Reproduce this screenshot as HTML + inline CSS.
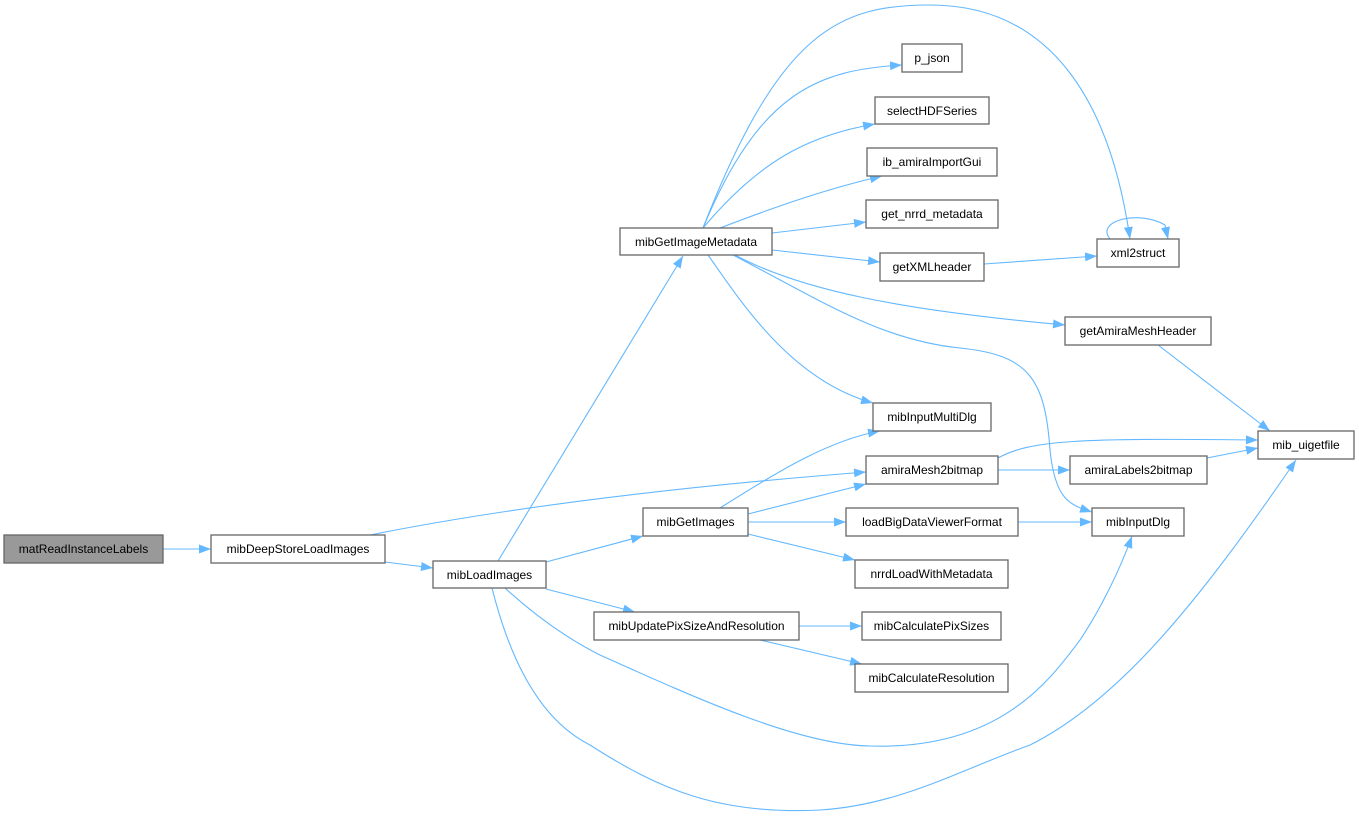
<!DOCTYPE html>
<html><head><meta charset="utf-8"><style>
html,body{margin:0;padding:0;background:#fff;}
svg{display:block;}
text{font-family:"Liberation Sans",Arial,sans-serif;font-size:12px;fill:#000;}
.n{fill:#fff;stroke:#666;stroke-width:1.3;}
.e{fill:none;stroke:#63b8ff;stroke-width:1.1;}
</style></head><body>
<svg width="1359" height="818" viewBox="0 0 1359 818" xmlns="http://www.w3.org/2000/svg">
<defs><marker id="a" markerWidth="12" markerHeight="9" refX="12" refY="4.5" orient="auto" markerUnits="userSpaceOnUse"><path d="M0,0 L12,4.5 L0,9 Z" fill="#63b8ff"/></marker></defs>
<g class="edges">
<path class="e" marker-end="url(#a)" d="M163,549 L211,549"/>
<path class="e" marker-end="url(#a)" d="M385,562 L433,568"/>
<path class="e" marker-end="url(#a)" d="M370,535 C520,505 700,485 866,472"/>
<path class="e" marker-end="url(#a)" d="M498,561 L683,256"/>
<path class="e" marker-end="url(#a)" d="M546,562 L643,536"/>
<path class="e" marker-end="url(#a)" d="M546,589 L635,612"/>
<path class="e" marker-end="url(#a)" d="M505,588 C540,620 570,640 600,655 C700,700 800,745 870,746 C1000,750 1050,680 1080,640 C1100,610 1120,570 1132,536"/>
<path class="e" marker-end="url(#a)" d="M492,588 C510,660 540,720 590,745 C660,790 720,815 820,810 C900,805 960,770 1030,745 C1120,700 1200,600 1296,460"/>
<path class="e" marker-end="url(#a)" d="M703,228 C760,90 820,70 902,65"/>
<path class="e" marker-end="url(#a)" d="M703,228 C760,160 810,135 875,124"/>
<path class="e" marker-end="url(#a)" d="M720,228 C780,205 830,188 882,176"/>
<path class="e" marker-end="url(#a)" d="M772,233 L866,222"/>
<path class="e" marker-end="url(#a)" d="M772,250 L880,262"/>
<path class="e" marker-end="url(#a)" d="M703,228 C780,30 840,5 930,5 C1050,5 1110,100 1130,239"/>
<path class="e" marker-end="url(#a)" d="M735,255 C800,290 900,310 1065,325"/>
<path class="e" marker-end="url(#a)" d="M708,255 C740,300 790,380 873,403"/>
<path class="e" marker-end="url(#a)" d="M733,255 C820,300 880,340 960,348 C1030,355 1045,380 1050,450 C1055,500 1070,505 1092,512"/>
<path class="e" marker-end="url(#a)" d="M984,264 L1097,256"/>
<path class="e" d="M1110,239 C1095,220 1140,210 1165,225"/>
<path class="e" marker-end="url(#a)" d="M1165,225 L1168,239"/>
<path class="e" marker-end="url(#a)" d="M1158,345 L1270,431"/>
<path class="e" marker-end="url(#a)" d="M998,458 C1030,440 1080,438 1258,440"/>
<path class="e" marker-end="url(#a)" d="M998,470 L1070,470"/>
<path class="e" marker-end="url(#a)" d="M1207,458 L1258,448"/>
<path class="e" marker-end="url(#a)" d="M720,508 C780,470 830,440 880,431"/>
<path class="e" marker-end="url(#a)" d="M748,514 L866,484"/>
<path class="e" marker-end="url(#a)" d="M748,522 L846,522"/>
<path class="e" marker-end="url(#a)" d="M748,534 L855,560"/>
<path class="e" marker-end="url(#a)" d="M1018,522 L1092,522"/>
<path class="e" marker-end="url(#a)" d="M799,626 L862,626"/>
<path class="e" marker-end="url(#a)" d="M760,640 L862,664"/>
</g>
<g>
<rect x="4" y="535" width="159" height="28" fill="#999" stroke="#666" stroke-width="1.3"/><text x="83.5" y="553" text-anchor="middle">matReadInstanceLabels</text>
<rect class="n" x="211" y="535" width="174" height="28"/><text x="298" y="553" text-anchor="middle">mibDeepStoreLoadImages</text>
<rect class="n" x="433" y="561" width="113" height="27"/><text x="489.5" y="579" text-anchor="middle">mibLoadImages</text>
<rect class="n" x="620" y="228" width="152" height="27"/><text x="696" y="246" text-anchor="middle">mibGetImageMetadata</text>
<rect class="n" x="902" y="44" width="60" height="28"/><text x="932" y="62" text-anchor="middle">p_json</text>
<rect class="n" x="875" y="97" width="114" height="27"/><text x="932" y="115" text-anchor="middle">selectHDFSeries</text>
<rect class="n" x="867" y="148" width="130" height="28"/><text x="932" y="166" text-anchor="middle">ib_amiraImportGui</text>
<rect class="n" x="866" y="200" width="132" height="28"/><text x="932" y="218" text-anchor="middle">get_nrrd_metadata</text>
<rect class="n" x="880" y="253" width="104" height="28"/><text x="932" y="271" text-anchor="middle">getXMLheader</text>
<rect class="n" x="1097" y="239" width="82" height="28"/><text x="1138" y="257" text-anchor="middle">xml2struct</text>
<rect class="n" x="1065" y="317" width="146" height="28"/><text x="1138" y="335" text-anchor="middle">getAmiraMeshHeader</text>
<rect class="n" x="1258" y="431" width="96" height="28"/><text x="1306" y="449" text-anchor="middle">mib_uigetfile</text>
<rect class="n" x="873" y="403" width="118" height="28"/><text x="932" y="421" text-anchor="middle">mibInputMultiDlg</text>
<rect class="n" x="866" y="456" width="132" height="28"/><text x="932" y="474" text-anchor="middle">amiraMesh2bitmap</text>
<rect class="n" x="1070" y="456" width="137" height="28"/><text x="1138.5" y="474" text-anchor="middle">amiraLabels2bitmap</text>
<rect class="n" x="643" y="508" width="105" height="28"/><text x="695.5" y="526" text-anchor="middle">mibGetImages</text>
<rect class="n" x="846" y="508" width="172" height="28"/><text x="932" y="526" text-anchor="middle">loadBigDataViewerFormat</text>
<rect class="n" x="1092" y="508" width="92" height="28"/><text x="1138" y="526" text-anchor="middle">mibInputDlg</text>
<rect class="n" x="855" y="560" width="153" height="28"/><text x="931.5" y="578" text-anchor="middle">nrrdLoadWithMetadata</text>
<rect class="n" x="594" y="612" width="205" height="28"/><text x="696.5" y="630" text-anchor="middle">mibUpdatePixSizeAndResolution</text>
<rect class="n" x="862" y="612" width="139" height="28"/><text x="931.5" y="630" text-anchor="middle">mibCalculatePixSizes</text>
<rect class="n" x="855" y="664" width="153" height="28"/><text x="931.5" y="682" text-anchor="middle">mibCalculateResolution</text>
</g>
</svg>
</body></html>
